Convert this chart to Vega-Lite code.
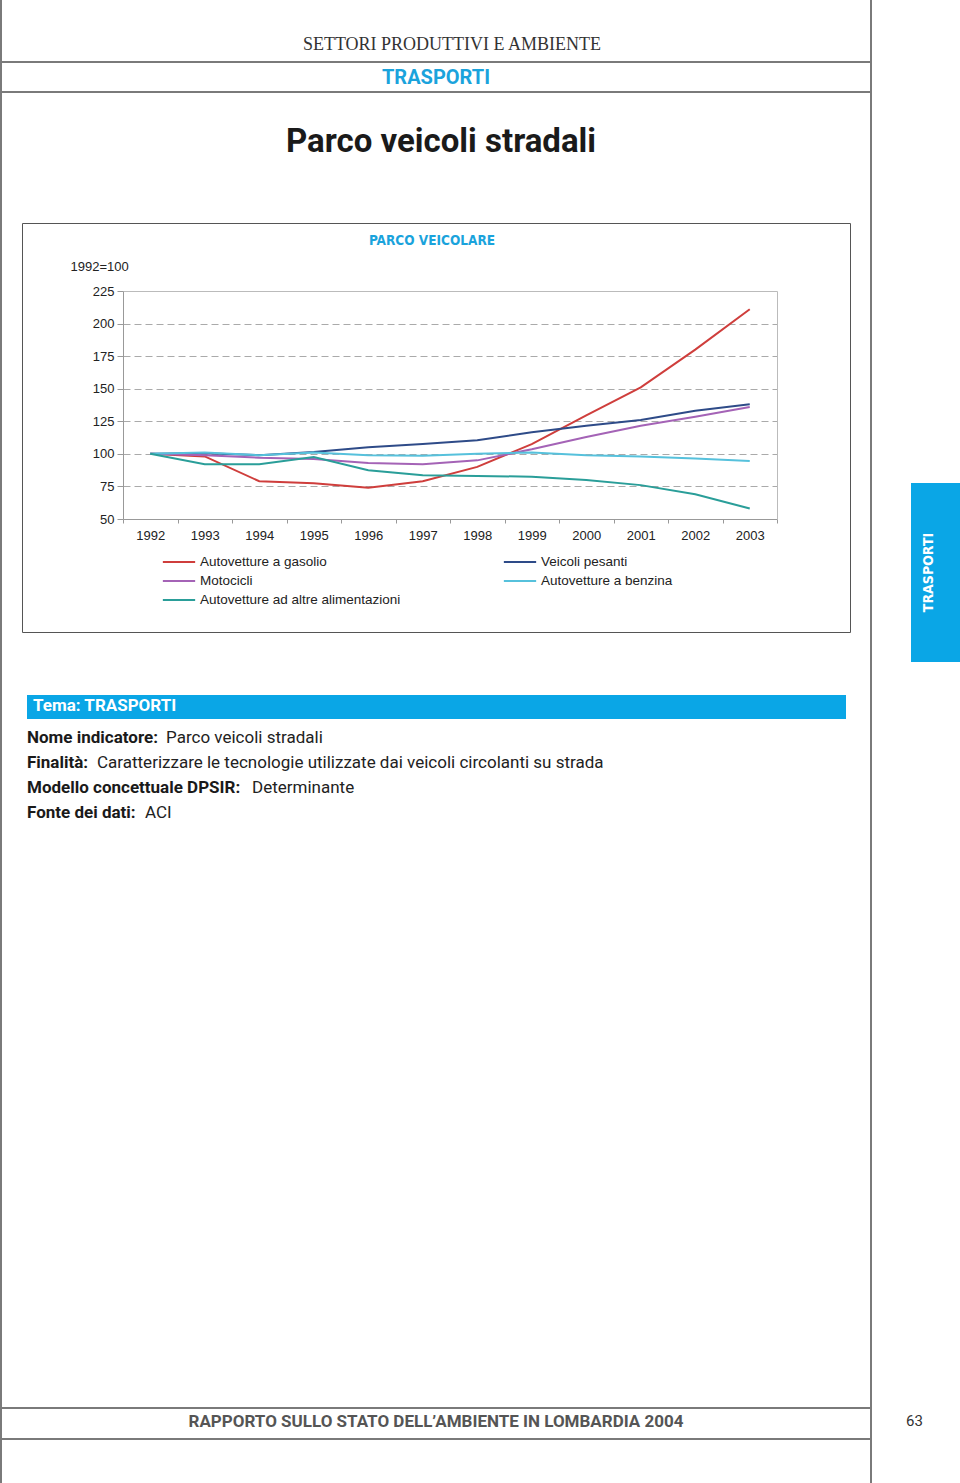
{
  "$schema": "https://vega.github.io/schema/vega-lite/v6.json",
  "background": "white",
  "padding": 0,
  "spacing": 0,
  "config": {
    "view": {"stroke": null},
    "font": "Liberation Sans",
    "title": {"frame": "group"}
  },
  "datasets": {
    "none": [],
    "parco": [
      {"anno": "1992", "serie": "Autovetture a gasolio", "indice": 100},
      {"anno": "1993", "serie": "Autovetture a gasolio", "indice": 98},
      {"anno": "1994", "serie": "Autovetture a gasolio", "indice": 79},
      {"anno": "1995", "serie": "Autovetture a gasolio", "indice": 77.5},
      {"anno": "1996", "serie": "Autovetture a gasolio", "indice": 74},
      {"anno": "1997", "serie": "Autovetture a gasolio", "indice": 79},
      {"anno": "1998", "serie": "Autovetture a gasolio", "indice": 90},
      {"anno": "1999", "serie": "Autovetture a gasolio", "indice": 107.5},
      {"anno": "2000", "serie": "Autovetture a gasolio", "indice": 129.5},
      {"anno": "2001", "serie": "Autovetture a gasolio", "indice": 151},
      {"anno": "2002", "serie": "Autovetture a gasolio", "indice": 180},
      {"anno": "2003", "serie": "Autovetture a gasolio", "indice": 211},
      {"anno": "1992", "serie": "Veicoli pesanti", "indice": 100},
      {"anno": "1993", "serie": "Veicoli pesanti", "indice": 100.5},
      {"anno": "1994", "serie": "Veicoli pesanti", "indice": 99},
      {"anno": "1995", "serie": "Veicoli pesanti", "indice": 101.5},
      {"anno": "1996", "serie": "Veicoli pesanti", "indice": 105},
      {"anno": "1997", "serie": "Veicoli pesanti", "indice": 107.5},
      {"anno": "1998", "serie": "Veicoli pesanti", "indice": 110.5},
      {"anno": "1999", "serie": "Veicoli pesanti", "indice": 116.5},
      {"anno": "2000", "serie": "Veicoli pesanti", "indice": 121.5},
      {"anno": "2001", "serie": "Veicoli pesanti", "indice": 126},
      {"anno": "2002", "serie": "Veicoli pesanti", "indice": 133},
      {"anno": "2003", "serie": "Veicoli pesanti", "indice": 138},
      {"anno": "1992", "serie": "Motocicli", "indice": 100},
      {"anno": "1993", "serie": "Motocicli", "indice": 99},
      {"anno": "1994", "serie": "Motocicli", "indice": 97},
      {"anno": "1995", "serie": "Motocicli", "indice": 96},
      {"anno": "1996", "serie": "Motocicli", "indice": 93},
      {"anno": "1997", "serie": "Motocicli", "indice": 92},
      {"anno": "1998", "serie": "Motocicli", "indice": 95},
      {"anno": "1999", "serie": "Motocicli", "indice": 103.5},
      {"anno": "2000", "serie": "Motocicli", "indice": 113},
      {"anno": "2001", "serie": "Motocicli", "indice": 121.5},
      {"anno": "2002", "serie": "Motocicli", "indice": 128.5},
      {"anno": "2003", "serie": "Motocicli", "indice": 136},
      {"anno": "1992", "serie": "Autovetture a benzina", "indice": 100},
      {"anno": "1993", "serie": "Autovetture a benzina", "indice": 101},
      {"anno": "1994", "serie": "Autovetture a benzina", "indice": 99},
      {"anno": "1995", "serie": "Autovetture a benzina", "indice": 101},
      {"anno": "1996", "serie": "Autovetture a benzina", "indice": 99},
      {"anno": "1997", "serie": "Autovetture a benzina", "indice": 98.5},
      {"anno": "1998", "serie": "Autovetture a benzina", "indice": 100},
      {"anno": "1999", "serie": "Autovetture a benzina", "indice": 101},
      {"anno": "2000", "serie": "Autovetture a benzina", "indice": 99},
      {"anno": "2001", "serie": "Autovetture a benzina", "indice": 98},
      {"anno": "2002", "serie": "Autovetture a benzina", "indice": 96.5},
      {"anno": "2003", "serie": "Autovetture a benzina", "indice": 94.5},
      {"anno": "1992", "serie": "Autovetture ad altre  alimentazioni", "indice": 100},
      {"anno": "1993", "serie": "Autovetture ad altre  alimentazioni", "indice": 92},
      {"anno": "1994", "serie": "Autovetture ad altre  alimentazioni", "indice": 92},
      {"anno": "1995", "serie": "Autovetture ad altre  alimentazioni", "indice": 97.5},
      {"anno": "1996", "serie": "Autovetture ad altre  alimentazioni", "indice": 87.5},
      {"anno": "1997", "serie": "Autovetture ad altre  alimentazioni", "indice": 83.5},
      {"anno": "1998", "serie": "Autovetture ad altre  alimentazioni", "indice": 83},
      {"anno": "1999", "serie": "Autovetture ad altre  alimentazioni", "indice": 82.5},
      {"anno": "2000", "serie": "Autovetture ad altre  alimentazioni", "indice": 80},
      {"anno": "2001", "serie": "Autovetture ad altre  alimentazioni", "indice": 76},
      {"anno": "2002", "serie": "Autovetture ad altre  alimentazioni", "indice": 69},
      {"anno": "2003", "serie": "Autovetture ad altre  alimentazioni", "indice": 58}
    ],
    "info": [
      {"ordine": 1, "etichetta": "Nome indicatore:", "valore": "Parco veicoli stradali"},
      {"ordine": 2, "etichetta": "Finalità:", "valore": "Caratterizzare le tecnologie utilizzate dai veicoli circolanti su strada"},
      {"ordine": 3, "etichetta": "Modello concettuale DPSIR:", "valore": "Determinante"},
      {"ordine": 4, "etichetta": "Fonte dei dati:", "valore": "ACI"}
    ]
  },
  "hconcat": [
    {"data": {"name": "none"}, "mark": "point", "width": 2, "height": 1483, "view": {"fill": "#7a7a7a", "stroke": null}},
    {
      "spacing": 0,
      "vconcat": [
        {"data": {"name": "none"}, "mark": "point", "width": 868, "height": 61,
         "title": {"text": "SETTORI PRODUTTIVI E AMBIENTE", "font": "Liberation Serif", "fontSize": 18, "fontWeight": "normal", "color": "#333", "offset": -54, "dx": 16, "anchor": "middle"}},
        {"data": {"name": "none"}, "mark": "point", "width": 868, "height": 2, "view": {"fill": "#7a7a7a", "stroke": null}},
        {"data": {"name": "none"}, "mark": "point", "width": 868, "height": 28,
         "title": {"text": "TRASPORTI", "font": "Roboto", "fontSize": 20, "fontWeight": "bold", "color": "#1aa3dc", "offset": -25, "anchor": "middle"}},
        {"data": {"name": "none"}, "mark": "point", "width": 868, "height": 2, "view": {"fill": "#7a7a7a", "stroke": null}},
        {"data": {"name": "none"}, "mark": "point", "width": 868, "height": 129,
         "title": {"text": "Parco veicoli stradali", "font": "Roboto", "fontSize": 33, "fontWeight": "bold", "color": "#1a1a1a", "offset": -66, "dx": 5, "anchor": "middle"}},
        {
          "spacing": 0,
          "hconcat": [
            {"data": {"name": "none"}, "mark": "point", "width": 19, "height": 409},
            {
              "width": 828,
              "height": 409,
              "view": {"stroke": "#555", "strokeWidth": 1, "fill": "white"},
              "title": {"text": "PARCO VEICOLARE", "font": "DejaVu Sans Condensed, Liberation Sans", "fontSize": 13.5, "fontWeight": "bold", "color": "#1aa3dc", "offset": -24, "dx": -4, "anchor": "middle"},
              "data": {"name": "parco"},
              "layer": [
                {
                  "mark": {"type": "line", "strokeWidth": 2},
                  "encoding": {
                    "x": {
                      "field": "anno", "type": "ordinal", "bandPosition": 0.5,
                      "scale": {"type": "band", "range": [101, 755], "paddingInner": 0, "paddingOuter": 0},
                      "axis": {"orient": "bottom", "offset": -113, "title": null, "labelAngle": 0, "grid": false,
                               "domainColor": "#999", "tickColor": "#999", "tickSize": 4, "tickBand": "extent",
                               "labelFont": "Liberation Sans", "labelFontSize": 13, "labelColor": "#222", "labelPadding": 6}
                    },
                    "y": {
                      "field": "indice", "type": "quantitative",
                      "scale": {"domain": [50, 225], "range": [296, 68], "nice": false, "zero": false},
                      "axis": {"orient": "left", "offset": -101, "values": [50, 75, 100, 125, 150, 175, 200, 225],
                               "domainColor": "#999", "tickColor": "#999", "tickSize": 6, "labelPadding": 3,
                               "labelFont": "Liberation Sans", "labelFontSize": 13, "labelColor": "#222",
                               "grid": true, "gridColor": "#aaa", "gridDash": [7, 4],
                               "gridOpacity": {"condition": {"test": "datum.value == 50 || datum.value == 225", "value": 0}, "value": 1},
                               "title": "1992=100", "titleAngle": 0, "titleAlign": "left", "titleBaseline": "middle",
                               "titleX": -53, "titleY": 43, "titleFont": "Liberation Sans", "titleFontSize": 13, "titleFontWeight": "normal", "titleColor": "#222"}
                    },
                    "color": {
                      "field": "serie", "type": "nominal",
                      "scale": {
                        "domain": ["Autovetture a gasolio", "Veicoli pesanti", "Motocicli", "Autovetture a benzina", "Autovetture ad altre  alimentazioni"],
                        "range": ["#cf3e3c", "#2e4b88", "#a463b6", "#56c1dc", "#2a9e99"]
                      },
                      "legend": {
                        "orient": "none", "legendX": 168.5, "legendY": 551.5, "columns": 2, "direction": "horizontal",
                        "title": null, "symbolType": "M -1.7 0 L 1.7 0", "symbolSize": 361, "symbolStrokeWidth": 2,
                        "labelOffset": 10.5, "labelFont": "Liberation Sans", "labelFontSize": 13.5, "labelColor": "#222",
                        "columnPadding": 95, "rowPadding": 2, "padding": 0, "labelLimit": 400
                      }
                    }
                  }
                },
                {
                  "mark": {"type": "line", "opacity": 0},
                  "encoding": {
                    "x": {"field": "anno", "type": "ordinal", "bandPosition": 0.5,
                          "axis": {"orient": "top", "offset": -68, "title": null, "labels": false, "ticks": false, "grid": false, "domainColor": "#bbb"}},
                    "y": {"field": "indice", "type": "quantitative",
                          "axis": {"orient": "right", "offset": -73, "title": null, "labels": false, "ticks": false, "grid": false, "domainColor": "#bbb"}},
                    "detail": {"field": "serie"}
                  }
                }
              ],
              "resolve": {"axis": {"x": "independent", "y": "independent"}}
            },
            {"data": {"name": "none"}, "mark": "point", "width": 19, "height": 409}
          ]
        },
        {"data": {"name": "none"}, "mark": "point", "width": 868, "height": 62},
        {
          "spacing": 0,
          "hconcat": [
            {"data": {"name": "none"}, "mark": "point", "width": 25, "height": 24},
            {"data": {"name": "none"}, "mark": "point", "width": 819, "height": 24, "view": {"fill": "#0aa6e6", "stroke": null},
             "title": {"text": "Tema: TRASPORTI", "font": "Roboto", "fontSize": 17, "fontWeight": "bold", "color": "white", "offset": -20, "dx": 6, "anchor": "start"}},
            {"data": {"name": "none"}, "mark": "point", "width": 24, "height": 24}
          ]
        },
        {"data": {"name": "none"}, "mark": "point", "width": 868, "height": 7},
        {
          "width": 50,
          "height": 99,
          "data": {"name": "info"},
          "encoding": {
            "y": {"field": "ordine", "type": "ordinal", "bandPosition": 0.5, "scale": {"type": "band", "paddingInner": 0, "paddingOuter": 0}, "axis": null}
          },
          "layer": [
            {"mark": {"type": "text", "align": "left", "baseline": "middle", "font": "Roboto", "fontSize": 17, "fontWeight": "bold", "color": "#1a1a1a"},
             "encoding": {"text": {"field": "etichetta"}}},
            {"transform": [{"filter": "datum.ordine == 1"}],
             "mark": {"type": "text", "align": "left", "baseline": "middle", "font": "Roboto", "fontSize": 17, "fontWeight": "normal", "color": "#222", "dx": 139},
             "encoding": {"text": {"field": "valore"}}},
            {"transform": [{"filter": "datum.ordine == 2"}],
             "mark": {"type": "text", "align": "left", "baseline": "middle", "font": "Roboto", "fontSize": 17, "fontWeight": "normal", "color": "#222", "dx": 70},
             "encoding": {"text": {"field": "valore"}}},
            {"transform": [{"filter": "datum.ordine == 3"}],
             "mark": {"type": "text", "align": "left", "baseline": "middle", "font": "Roboto", "fontSize": 17, "fontWeight": "normal", "color": "#222", "dx": 225},
             "encoding": {"text": {"field": "valore"}}},
            {"transform": [{"filter": "datum.ordine == 4"}],
             "mark": {"type": "text", "align": "left", "baseline": "middle", "font": "Roboto", "fontSize": 17, "fontWeight": "normal", "color": "#222", "dx": 118},
             "encoding": {"text": {"field": "valore"}}}
          ]
        },
        {"data": {"name": "none"}, "mark": "point", "width": 868, "height": 581.5},
        {"data": {"name": "none"}, "mark": "point", "width": 868, "height": 2, "view": {"fill": "#7a7a7a", "stroke": null}},
        {"data": {"name": "none"}, "mark": "point", "width": 868, "height": 29,
         "title": {"text": "RAPPORTO SULLO STATO DELL’AMBIENTE IN LOMBARDIA 2004", "font": "Roboto", "fontSize": 17, "fontWeight": "bold", "color": "#555", "offset": -22, "anchor": "middle"}},
        {"data": {"name": "none"}, "mark": "point", "width": 868, "height": 2, "view": {"fill": "#7a7a7a", "stroke": null}},
        {"data": {"name": "none"}, "mark": "point", "width": 868, "height": 45}
      ]
    },
    {"data": {"name": "none"}, "mark": "point", "width": 2, "height": 1483, "view": {"fill": "#7a7a7a", "stroke": null}},
    {
      "spacing": 0,
      "vconcat": [
        {"data": {"name": "none"}, "mark": "point", "width": 88, "height": 483},
        {
          "spacing": 0,
          "hconcat": [
            {"data": {"name": "none"}, "mark": "point", "width": 39, "height": 179},
            {"data": {"name": "none"}, "mark": "point", "width": 49, "height": 179, "view": {"fill": "#0aa6e6", "stroke": null},
             "title": {"text": "TRASPORTI", "orient": "left", "font": "DejaVu Sans Condensed, Liberation Sans", "fontSize": 14, "fontWeight": "bold", "color": "white", "offset": -25, "anchor": "middle"}}
          ]
        },
        {"data": {"name": "none"}, "mark": "point", "width": 88, "height": 744},
        {"data": {"name": "none"}, "mark": "point", "width": 88, "height": 30,
         "title": {"text": "63", "font": "Roboto", "fontSize": 15, "fontWeight": "normal", "color": "#333", "offset": -23, "dx": 34, "anchor": "start"}}
      ]
    }
  ]
}
